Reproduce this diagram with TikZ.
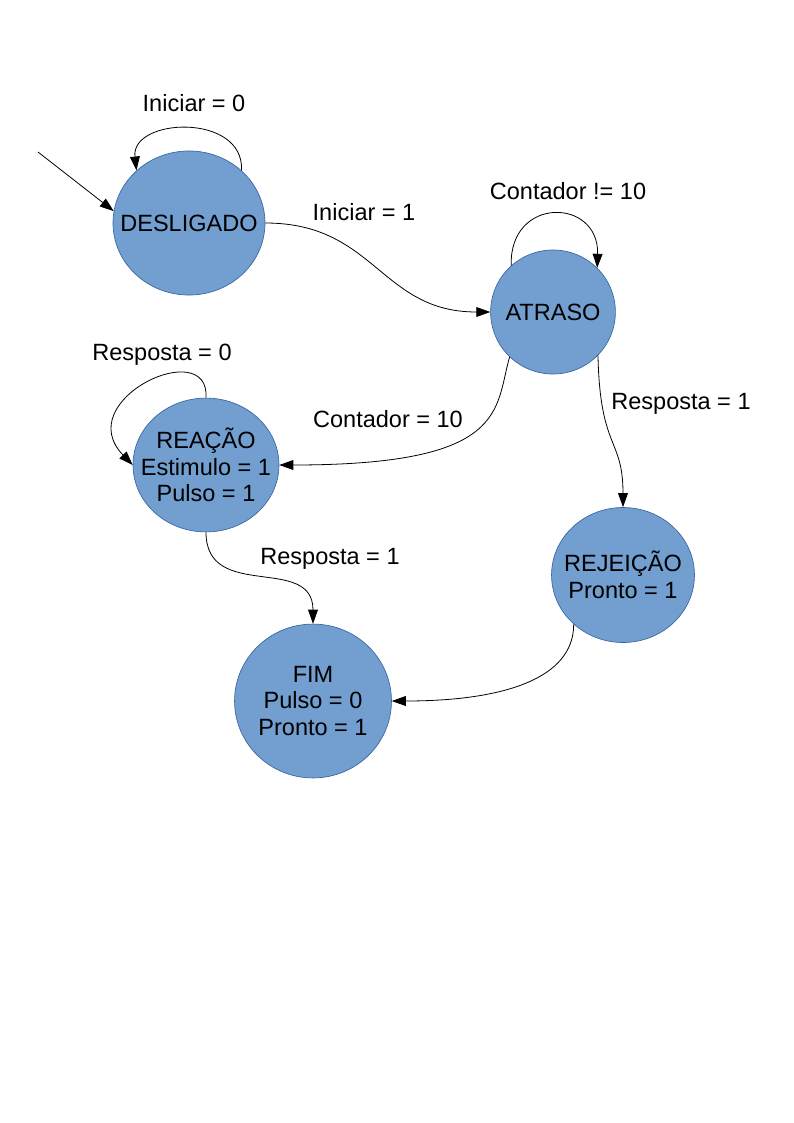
\documentclass[tikz,border=0pt]{standalone}
\usepackage{fontspec}
\setmainfont{Liberation Sans}
\usetikzlibrary{arrows.meta,shapes.geometric}

\definecolor{stfill}{HTML}{729FCF}
\definecolor{stline}{HTML}{3465A4}

\tikzset{
  st/.style={ellipse,draw=stline,fill=stfill,inner sep=0pt,line width=0.5pt},
  tr/.style={-{Triangle[length=3.7mm,width=2.6mm]},line width=0.6pt},
  lb/.style={align=center}
}

\begin{document}
\begin{tikzpicture}[x=0.2645mm,y=-0.2645mm,font=\fontsize{17.7}{20}\selectfont]
\useasboundingbox (0,0) rectangle (794,1123);

% states
\node[st,minimum width=40.2mm,minimum height=38.1mm,label={[lb]center:DESLIGADO}] (d) at (189,223) {};
\node[st,minimum width=33mm,minimum height=32.8mm,label={[lb]center:ATRASO}] (at) at (553,312) {};
\node[st,minimum width=38.6mm,minimum height=35.4mm,label={[lb]center:REAÇÃO\\Estimulo = 1\\Pulso = 1}] (re) at (206,465) {};
\node[st,minimum width=37.8mm,minimum height=35.7mm,label={[lb]center:REJEIÇÃO\\Pronto = 1}] (rj) at (623,575) {};
\node[st,minimum width=41.5mm,minimum height=40.7mm,label={[lb]center:FIM\\Pulso = 0\\Pronto = 1}] (f) at (313,701) {};

% transitions
\coordinate (s) at (38,152);
\draw[tr] (s) -- (d.171);
\draw[tr] (d.45) .. controls +(3,-58) and +(-6,-53) .. (d.135);
\draw[tr] (d.east) .. controls +(110,0) and +(-110,0) .. (at.west);
\draw[tr] (at.132) .. controls +(-2,-70) and +(2,-70) .. (at.45);
\draw[tr] (at.226) .. controls +(-15,53) and +(229,0) .. (re.east);
\draw[tr] (at.316) .. controls +(2,95) and +(0,-70) .. (rj.north);
\draw[tr] (re.north) .. controls +(4,-63) and +(-63,-65) .. (re.west);
\draw[tr] (re.south) .. controls +(0,70) and +(0,-70) .. (f.north);
\draw[tr] (rj.225) .. controls +(0,55) and +(110,0) .. (f.east);

% conditions
\node (l1) at (194,103) {Iniciar = 0};
\node (l2) at (364,212) {Iniciar = 1};
\node (l3) at (568,191) {Contador != 10};
\node (l4) at (162,355) {Resposta = 0};
\node (l5) at (388,419) {Contador = 10};
\node (l6) at (681,404) {Resposta = 1};
\node (l7) at (330,559) {Resposta = 1};

\end{tikzpicture}
\end{document}
